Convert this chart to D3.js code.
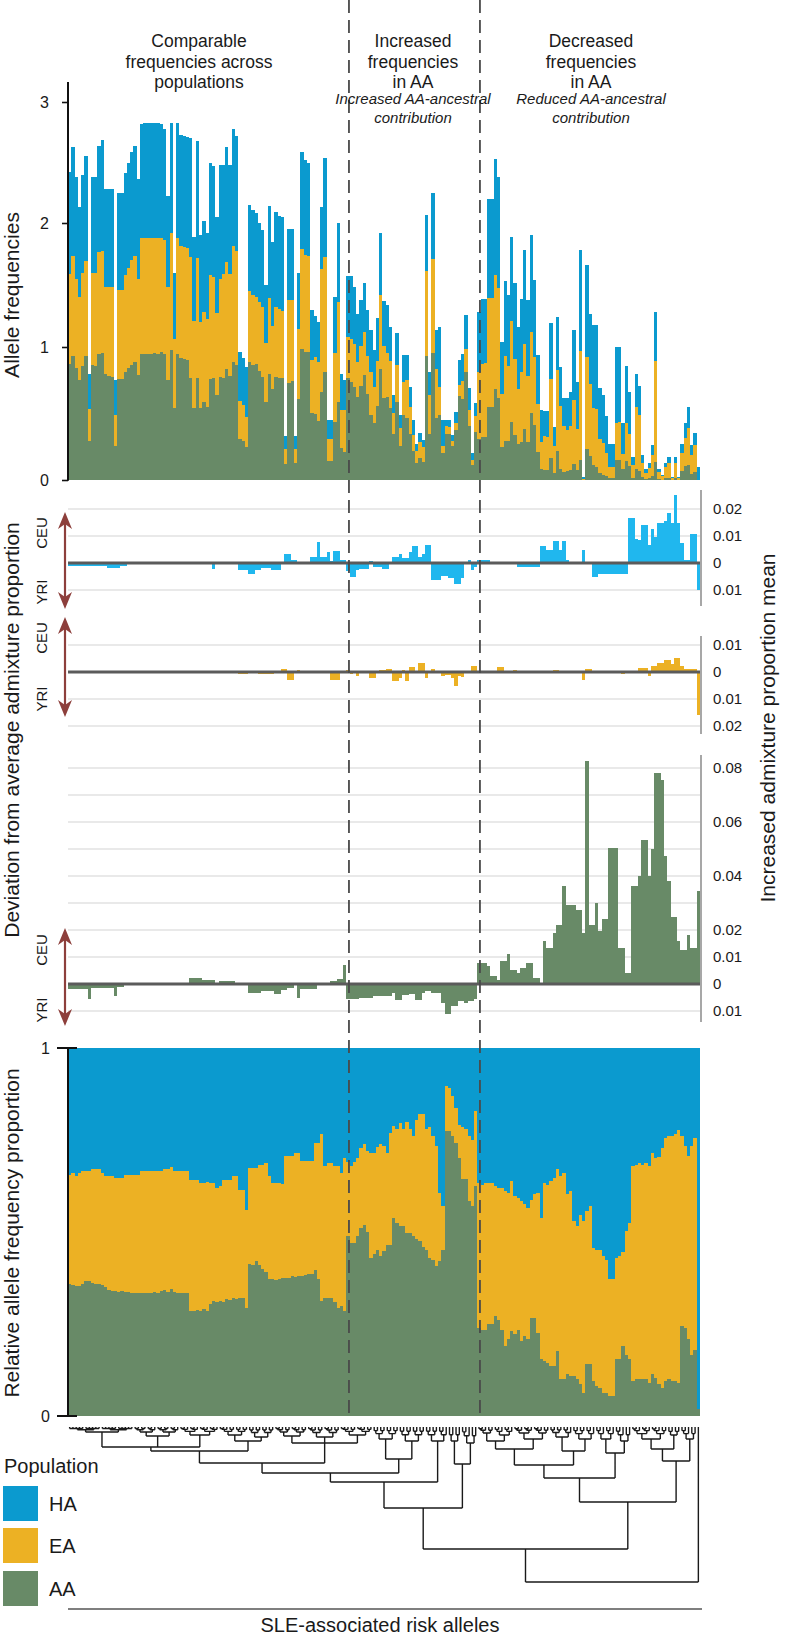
<!DOCTYPE html>
<html><head><meta charset="utf-8">
<script src="https://cdn.jsdelivr.net/npm/d3@7/dist/d3.min.js"></script>
<style>
body{margin:0;background:#fff}
svg{display:block}
text{font-family:"Liberation Sans",Arial,Helvetica,sans-serif;fill:#1a1a1a}
</style>
</head><body>
<svg id="c" width="788" height="1638"></svg>
<script>
// ---------------- DATA ----------------
const populations = ["HA","EA","AA"];
const freqTicks = [0,1,2,3];
const relTicks = [0,1];
const sectionBreaks = [85.8,125.8];
const sectionTitles = [
  {lines:["Comparable","frequencies across","populations"], italic:[]},
  {lines:["Increased","frequencies","in AA"], italic:["Increased AA-ancestral","contribution"]},
  {lines:["Decreased","frequencies","in AA"], italic:["Reduced AA-ancestral","contribution"]}
];
// summed allele frequency (HA+EA+AA) per risk allele
const totals = [
2.42,2.63,2.38,2.13,2.40,2.55,0.80,2.38,2.38,2.64,
2.69,2.28,2.28,2.28,0.75,2.25,2.25,2.41,2.50,2.59,
2.64,2.36,2.82,2.83,2.83,2.83,2.83,2.83,2.82,2.78,
2.22,2.83,1.60,2.83,2.73,2.72,2.71,2.70,1.89,2.68,
1.90,2.02,1.92,2.50,2.47,2.05,2.48,2.48,2.63,2.48,
2.78,2.72,0.96,0.92,0.85,2.15,2.11,2.08,2.00,1.94,
1.50,2.14,1.85,2.09,2.06,2.05,0.33,1.95,1.95,0.33,
1.60,2.59,2.52,2.50,1.30,1.25,1.20,2.13,2.54,0.45,
0.45,1.40,2.00,0.80,0.75,
1.57,1.57,1.48,1.27,1.38,1.52,1.30,1.14,0.98,1.23,
1.92,1.37,1.34,1.16,0.64,1.11,0.49,0.94,0.94,0.70,
0.45,0.27,0.35,0.30,2.07,0.81,2.25,1.14,1.16,0.45,
0.45,0.45,0.34,0.51,0.90,0.95,1.26,0.69,0.20,0.58,
1.28,1.39,1.39,2.20,2.20,2.53,2.38,1.04,1.53,1.42,
1.89,1.52,1.16,1.39,1.78,1.38,1.90,1.54,0.94,0.53,
0.52,0.52,1.19,0.40,1.24,0.85,0.62,0.62,0.66,1.14,
0.74,1.78,0.02,1.66,1.27,1.18,1.18,0.69,0.64,0.48,
0.27,0.27,1.00,1.00,0.43,0.86,0.66,0.17,0.80,0.71,
0.19,0.08,0.13,0.26,1.28,0.08,0.04,0.13,0.17,0.02,
0.17,0.02,0.27,0.43,0.55,0.26,0.35,0.10];
// relative proportion of AA
const propAA = [
.36,.355,.353,.353,.358,.367,.367,.362,.36,.36,
.356,.35,.343,.34,.339,.336,.339,.336,.336,.335,
.335,.335,.335,.335,.335,.335,.338,.335,.34,.342,
.338,.345,.338,.335,.335,.335,.333,.285,.285,.287,
.285,.29,.285,.305,.312,.31,.312,.31,.318,.315,
.32,.318,.321,.32,.294,.412,.41,.421,.41,.40,
.39,.371,.371,.37,.371,.375,.375,.375,.38,.378,
.38,.38,.382,.385,.385,.398,.371,.312,.321,.32,
.321,.31,.294,.30,.285,
.49,.47,.47,.49,.51,.52,.50,.43,.44,.45,
.434,.448,.466,.466,.538,.525,.516,.516,.498,.498,
.49,.48,.475,.46,.452,.43,.425,.407,.42,.45,
.774,.774,.76,.742,.70,.643,.643,.584,.57,.624,
.24,.235,.235,.249,.249,.271,.26,.235,.19,.208,
.231,.222,.235,.204,.217,.208,.267,.267,.226,.154,
.15,.145,.136,.136,.176,.10,.10,.113,.11,.108,
.10,.086,.063,.14,.14,.095,.081,.077,.063,.063,
.054,.054,.154,.154,.19,.167,.154,.095,.10,.10,
.10,.10,.09,.113,.104,.086,.077,.095,.10,.095,
.095,.09,.244,.24,.208,.167,.18,.02];
// relative proportion of AA+EA (cumulative)
const propAAEA = [
.656,.66,.652,.66,.665,.665,.665,.67,.67,.67,
.66,.652,.652,.652,.648,.648,.648,.656,.656,.656,
.656,.656,.665,.665,.665,.665,.665,.665,.665,.67,
.67,.677,.665,.665,.665,.665,.665,.64,.64,.64,
.633,.633,.637,.633,.633,.62,.625,.64,.64,.64,
.652,.652,.615,.615,.561,.674,.674,.674,.683,.683,
.688,.652,.634,.634,.634,.63,.706,.706,.706,.714,
.714,.692,.692,.692,.692,.742,.742,.765,.68,.688,
.688,.68,.68,.66,.70,
.69,.68,.69,.70,.728,.738,.72,.715,.715,.73,
.738,.733,.715,.77,.787,.78,.796,.78,.80,.78,
.76,.805,.82,.82,.78,.785,.76,.733,.606,.57,
.896,.89,.87,.837,.79,.785,.78,.76,.75,.83,
.633,.628,.633,.633,.633,.624,.62,.62,.611,.606,
.638,.597,.593,.584,.575,.566,.588,.602,.606,.538,
.633,.628,.638,.647,.67,.652,.66,.602,.611,.53,
.516,.547,.53,.556,.57,.457,.452,.452,.434,.425,
.371,.371,.43,.434,.447,.502,.525,.679,.683,.688,
.683,.688,.679,.715,.70,.705,.728,.756,.76,.762,
.765,.778,.76,.733,.706,.733,.756,.02];
// deviation from average admixture proportion (CEU positive, YRI negative)
const devHA = [
-0.0012,-0.0012,-0.0012,-0.0012,-0.0012,-0.0012,-0.0012,-0.0012,-0.0012,-0.0012,
-0.0012,-0.0012,-0.0018,-0.0018,-0.0018,-0.0018,-0.001,-0.001,0,0,
0,0,0,0,0,0,0,0,0,0,
0,0,0,0,0,0,0,0,0,0,
0,0,0,0,-0.0022,0,0,0,0,0,
0,0,-0.0025,-0.0025,-0.0025,-0.004,-0.004,-0.0025,-0.0025,-0.0018,
-0.0018,-0.0018,-0.0027,-0.0027,-0.0025,0,0.0035,0.0035,0.0012,0.0012,
0,0,0,0,0.0022,0.0022,0.0077,0.0022,0.0022,0.004,
0.0006,0.0043,0.0043,0.0012,0.0012,-0.0031,-0.0052,-0.0052,-0.0025,-0.0022,
-0.0022,-0.0022,0.0006,-0.0015,-0.0015,-0.0015,-0.0022,-0.0022,0,0.0022,
0.0022,0.0035,0.0018,0.0018,0.004,0.0062,0.0062,0.0022,0.0035,0.0065,
0.0065,-0.0062,-0.0062,-0.0062,-0.0049,-0.0049,-0.0056,-0.0056,-0.0077,-0.0077,
-0.0056,0,0.001,-0.0025,-0.0015,0.001,0.001,0.001,0.001,0,
0,0,0,0,0,0,0,-0.0015,-0.0015,-0.0015,
-0.0015,-0.0015,-0.0015,-0.0015,0.0064,0.0064,0.0047,0.0047,0.008,0.008,
0.0047,0.008,0.0012,-0.0005,-0.0005,-0.0005,-0.0005,0.0049,0,0,
-0.0052,-0.0052,-0.004,-0.004,-0.004,-0.004,-0.004,-0.004,-0.004,-0.004,
-0.004,0.0167,0.0167,0.0089,0.0086,0.0142,0.0142,0.0068,0.0126,0.0096,
0.0148,0.0148,0.0154,0.0185,0.0148,0.0253,0.0148,0.0074,0.0012,0.0012,
0.0109,0.0109,-0.0099];
const devEA = [
0,0,0,0,0,0,0,0,0,0,
0,0,0,0,0,0,0,0,0,0,
0,0,0,0,0,0,0,0,0,0,
0,0,0,0,0,0,0,0,0,0,
0,0,0,0,0,0,0,0,0,0,
0,0,-0.0007,-0.0007,-0.0007,0,0,0,-0.0007,-0.0007,
-0.0007,-0.0007,-0.0007,0,0,0.001,0.001,-0.0028,-0.0028,0,
0.0006,0,0,0,0,0,0,0,0,0,
-0.0028,-0.0028,-0.0028,0,0,0.0006,-0.0007,0,-0.0016,0,
0,-0.0004,-0.0022,-0.0022,0,0.0006,0.0006,0.001,0.001,-0.0035,
-0.0035,-0.0022,0.0009,-0.0035,0.002,0.002,0,0.0033,0.0033,-0.0022,
0,0.0011,0,0,-0.0016,-0.001,-0.001,-0.0022,-0.0053,-0.0014,
-0.0019,-0.0004,-0.0004,0.0021,0.0021,0,0,-0.0004,0,0,
0,0.0019,0.0019,0,0,0,0.0006,0,0,0,
0,0,0,0,0,0,-0.0004,-0.0004,0.0009,0.0009,
0,0,0,0,0,0,0,-0.003,0.0011,0.0011,
0,0,0,0,0,0,0,0,0,-0.0007,
0,0,0,0,0.0015,0.0015,0.0015,-0.0013,0.0023,0.0023,
0.0033,0.0033,0.0043,0.0043,0.0031,0.0052,0.0052,0.0021,0.0011,0.0011,
0.0011,0.0011,-0.0158];
const devAA = [
-0.0019,-0.0019,-0.0019,-0.0019,-0.0019,-0.0019,-0.0056,-0.0015,-0.0015,-0.0015,
-0.0015,-0.0015,-0.0015,-0.0015,-0.0043,-0.001,-0.001,0,0,0,
0,0,0,0,0,0,0,0,0,0,
0,0,0,0,0,0,0,0.0022,0.0022,0.0022,
0.0022,0.0014,0.0014,0.0014,0.0014,0,0.001,0.001,0.001,0.001,
0.001,0,0,0,0,-0.0033,-0.0033,-0.0033,-0.0033,-0.0027,
-0.0027,-0.0027,-0.0027,-0.0036,-0.0036,-0.0021,-0.0021,-0.0015,-0.0015,0,
-0.0052,-0.0019,-0.0019,-0.0019,-0.0019,-0.0019,0,0,0,0,
0.001,0.001,0.0019,0.0019,0.0072,-0.0056,-0.0056,-0.0056,-0.0056,-0.0052,
-0.0052,-0.0052,-0.0052,-0.0046,-0.0046,-0.0046,-0.0043,-0.0043,-0.0043,-0.0033,
-0.0058,-0.0058,-0.004,-0.004,-0.0036,-0.0036,-0.0058,-0.0058,-0.0033,-0.0027,
-0.0027,-0.0033,-0.0033,-0.0033,-0.007,-0.011,-0.011,-0.0083,-0.0083,-0.0064,
-0.0064,-0.007,-0.0064,-0.0064,-0.0056,0.0078,0.0078,0.0078,0.0065,0.0028,
0.0028,0.0016,0.0084,0.0084,0.011,0.0053,0.0053,0.0041,0.0059,0.0059,
0.0078,0.0078,0.0022,0.0022,0.0004,0.0158,0.0133,0.0133,0.0189,0.022,
0.022,0.0362,0.0294,0.0294,0.0294,0.0275,0.0275,0.0189,0.0825,0.022,
0.022,0.030,0.0195,0.024,0.024,0.0504,0.0504,0.0504,0.0133,0.0133,
0.0041,0.0041,0.0362,0.0362,0.04,0.0535,0.0535,0.040,0.05,0.078,
0.078,0.0757,0.0473,0.038,0.025,0.025,0.0158,0.0127,0.0127,0.0183,
0.0133,0.0133,0.0343];
const devTicksHA = [0.02,0.01,0,-0.01];
const devTicksEA = [0.01,0,-0.01,-0.02];
const devTicksAA = [0.08,0.06,0.04,0.02,0.01,0,-0.01];
const devGridAA = [0.08,0.07,0.06,0.05,0.04,0.03,0.02,0.01,-0.01];
// hierarchical clustering of alleles (h = merge height; g = small cluster of g leaves)
const dendro = {h:155, c:[
  {h:122, c:[
    {h:81, c:[
      {h:55, c:[
        {h:46, c:[
          {h:36, c:[
            {h:24, c:[
              {h:20, c:[{g:20,h:5},{g:14,h:9},{g:12,h:8}]},
              {h:14, c:[{g:9,h:8},{g:8,h:10}]}
            ]},
            {h:16, c:[{g:10,h:9},{g:10,h:10},{g:10,h:8}]}
          ]},
          {h:32, c:[{g:8,h:12},{g:8,h:14}]}
        ]},
        {g:7,h:14}
      ]},
      {h:37, c:[{g:4,h:14},{g:5,h:16}]}
    ]},
    {h:75, c:[
      {h:51, c:[
        {h:38, c:[
          {h:22, c:[{h:14,c:[{g:5,h:6},{g:6,h:8}]},{h:12,c:[{g:6,h:6},{g:5,h:6}]}]},
          {h:24, c:[{g:7,h:10},{g:7,h:12}]}
        ]},
        {h:26, c:[{g:6,h:12},{g:5,h:14}]}
      ]},
      {h:34, c:[
        {h:22, c:[{g:11,h:12},{g:4,h:8}]},
        {g:5,h:12}
      ]}
    ]}
  ]},
  {g:1,h:0}
]};

// ---------------- CHART ----------------
const COL = {HA:"#0b9acf", EA:"#ecb124", AA:"#688a67", devHA:"#20b7ee", arrow:"#8d3f3c"};
const svg = d3.select("#c");
const N = totals.length;
const X0 = 68, X1 = 700;
const x = d3.scaleBand().domain(d3.range(N)).range([X0, X1]).padding(0);
const bw = x.bandwidth();
const bx = i => Math.round(x(i));
const bwid = i => Math.round(x(i) + bw) - Math.round(x(i));
const xBreak = d3.scaleLinear().domain([0, N]).range([X0, X1]);

// ---- top panel: stacked allele frequencies
const yTop = d3.scaleLinear().domain(freqTicks).range([480,347,223,102]);
const rows = d3.range(N).map(i => ({
  AA: totals[i]*propAA[i],
  EA: totals[i]*(propAAEA[i]-propAA[i]),
  HA: totals[i]*(1-propAAEA[i])
}));
const stackKeys = ["AA","EA","HA"];
const stacked = d3.stack().keys(stackKeys)(rows);
const gTop = svg.append("g").attr("shape-rendering","crispEdges");
stacked.forEach(layer => {
  gTop.selectAll(null).data(layer).join("rect")
    .attr("x", (d,i) => bx(i)).attr("width", (d,i) => bwid(i))
    .attr("y", d => yTop(d[1])).attr("height", d => Math.max(0, yTop(d[0]) - yTop(d[1])))
    .attr("fill", COL[layer.key]);
});
const axTop = svg.append("g").attr("transform", `translate(${X0},0)`)
  .call(d3.axisLeft(yTop).tickValues(freqTicks).tickFormat(d3.format("d")).tickSize(6).tickPadding(13));
axTop.select(".domain").remove();
axTop.selectAll("line").attr("stroke","#111").attr("stroke-width",1.6);
axTop.selectAll("text").style("font-size","16px").style("font-family","Liberation Sans, Arial, sans-serif").attr("fill","#1a1a1a");
svg.append("line").attr("x1",X0).attr("x2",X0).attr("y1",82).attr("y2",yTop(0)+0.8).attr("stroke","#111").attr("stroke-width",2);

// ---- deviation panels
function devPanel(vals, color, zeroY, gridVals, tickVals, axTopY, axBotY, arrowTop, arrowBot, ceuY, yriY){
  const y = d3.scaleLinear().domain([0, 0.01]).range([zeroY, zeroY-27]);
  const g = svg.append("g");
  g.selectAll(null).data(gridVals).join("line")
    .attr("x1",X0).attr("x2",X1).attr("y1",d=>y(d)).attr("y2",d=>y(d))
    .attr("stroke","#e2e2e2").attr("stroke-width",1.4);
  g.append("g").attr("shape-rendering","crispEdges").selectAll(null).data(vals).join("rect")
    .attr("x",(d,i)=>bx(i)).attr("width",(d,i)=>bwid(i))
    .attr("y",d=>Math.min(y(0),y(d))).attr("height",d=>Math.abs(y(d)-y(0)))
    .attr("fill",color);
  g.append("line").attr("x1",X0).attr("x2",X1).attr("y1",y(0)).attr("y2",y(0))
    .attr("stroke","#5b5b5b").attr("stroke-width",3);
  g.append("line").attr("x1",X1+1).attr("x2",X1+1).attr("y1",axTopY).attr("y2",axBotY)
    .attr("stroke","#8a8a8a").attr("stroke-width",1.5);
  g.selectAll(null).data(tickVals).join("text")
    .attr("x",713).attr("y",d=>y(d)).attr("dy","0.35em")
    .style("font-size","15px").text(d => d===0 ? "0" : Math.abs(d).toFixed(2));
  const ax = 65;
  g.append("line").attr("x1",ax).attr("x2",ax).attr("y1",arrowTop+8).attr("y2",arrowBot-8)
    .attr("stroke",COL.arrow).attr("stroke-width",2.2);
  g.append("path").attr("d",`M${ax},${arrowTop}L${ax-7},${arrowTop+17}L${ax},${arrowTop+12}L${ax+7},${arrowTop+17}Z`).attr("fill",COL.arrow);
  g.append("path").attr("d",`M${ax},${arrowBot}L${ax-7},${arrowBot-17}L${ax},${arrowBot-12}L${ax+7},${arrowBot-17}Z`).attr("fill",COL.arrow);
  g.append("text").attr("transform",`translate(47,${ceuY}) rotate(-90)`).attr("text-anchor","middle").style("font-size","15px").text("CEU");
  g.append("text").attr("transform",`translate(47,${yriY}) rotate(-90)`).attr("text-anchor","middle").style("font-size","15px").text("YRI");
}
devPanel(devHA, COL.devHA, 563, [0.02,0.01,-0.01], devTicksHA, 490, 606, 512, 609, 533, 592);
devPanel(devEA, COL.EA, 672, [0.01,-0.01,-0.02], devTicksEA, 636, 734, 617, 717, 638, 699);
devPanel(devAA, COL.AA, 984, devGridAA, devTicksAA, 755, 1022, 928, 1026, 950, 1010);

// ---- relative proportion panel
const yRel = d3.scaleLinear().domain([0,1]).range([1416,1048]);
const rows2 = d3.range(N).map(i => ({AA: propAA[i], EA: propAAEA[i]-propAA[i], HA: 1-propAAEA[i]}));
const stacked2 = d3.stack().keys(stackKeys)(rows2);
const gRel = svg.append("g").attr("shape-rendering","crispEdges");
stacked2.forEach(layer => {
  gRel.selectAll(null).data(layer).join("rect")
    .attr("x",(d,i)=>bx(i)).attr("width",(d,i)=>bwid(i))
    .attr("y",d=>yRel(d[1])).attr("height",d=>Math.max(0,yRel(d[0])-yRel(d[1])))
    .attr("fill",COL[layer.key]);
});
svg.append("line").attr("x1",X0).attr("x2",X0).attr("y1",yRel(1)).attr("y2",yRel(0)).attr("stroke","#111").attr("stroke-width",2);
svg.selectAll(null).data(relTicks).join("line")
  .attr("x1",57).attr("x2",77).attr("y1",d=>yRel(d)).attr("y2",d=>yRel(d)).attr("stroke","#111").attr("stroke-width",2);
svg.selectAll(null).data(relTicks).join("text")
  .attr("x",50).attr("y",d=>yRel(d)).attr("dy","0.35em").attr("text-anchor","end").style("font-size","16px").text(d=>d);

// ---- dashed section lines
svg.selectAll(null).data(sectionBreaks).join("line")
  .attr("x1",d=>xBreak(d)).attr("x2",d=>xBreak(d)).attr("y1",0).attr("y2",1416)
  .attr("stroke","#4a4a4a").attr("stroke-width",1.8).attr("stroke-dasharray","13,7");

// ---- section titles
const titleX = [199, 413, 591];
sectionTitles.forEach((t,k) => {
  t.lines.forEach((s,j) => svg.append("text").attr("x",titleX[k]).attr("y",47+j*20.5)
    .attr("text-anchor","middle").style("font-size","17.5px").text(s));
  t.italic.forEach((s,j) => svg.append("text").attr("x",titleX[k]).attr("y",104+j*18.5)
    .attr("text-anchor","middle").style("font-size","15px").style("font-style","italic").text(s));
});

// ---- axis titles
function vtext(xp, yp, s, size){
  svg.append("text").attr("transform",`translate(${xp},${yp}) rotate(-90)`).attr("text-anchor","middle")
    .style("font-size",size+"px").text(s);
}
vtext(19, 295, "Allele frequencies", 21);
vtext(19, 730, "Deviation from average admixture proportion", 21);
vtext(775, 728, "Increased admixture proportion mean", 21);
vtext(19, 1233, "Relative allele frequency proportion", 21);

// ---- dendrogram
const yDen = d3.scaleLinear().domain([0,155]).range([1427,1582]);
function grp(n, h){
  if (n === 1) return {h:0};
  const a = Math.ceil(n/2);
  const hc = Math.max(1.5, h*0.55);
  return {h, c:[grp(a,hc), grp(n-a,hc)]};
}
function build(nd){ return nd.g ? grp(nd.g, nd.h) : {h:nd.h, c:nd.c.map(build)}; }
const tree = build(dendro);
let leafIdx = 0;
function lay(nd){
  if (!nd.c){ nd.x = x(leafIdx) + bw/2; leafIdx++; return; }
  nd.c.forEach(lay);
  nd.x = (nd.c[0].x + nd.c[nd.c.length-1].x)/2;
}
lay(tree);
let dpath = "";
function drw(nd){
  if (!nd.c) return;
  const yn = yDen(nd.h);
  dpath += `M${nd.c[0].x},${yn}H${nd.c[nd.c.length-1].x}`;
  nd.c.forEach(ch => { dpath += `M${ch.x},${yDen(ch.h)}V${yn}`; drw(ch); });
}
drw(tree);
svg.append("path").attr("d",dpath).attr("fill","none").attr("stroke","#1a1a1a").attr("stroke-width",1.4);

// x axis line + label
svg.append("line").attr("x1",X0).attr("x2",X1+2).attr("y1",1609).attr("y2",1609).attr("stroke","#555").attr("stroke-width",1.6);
svg.append("text").attr("x",380).attr("y",1632).attr("text-anchor","middle").style("font-size","20px").text("SLE-associated risk alleles");

// ---- legend
svg.append("text").attr("x",4).attr("y",1473).style("font-size","20px").text("Population");
const legY = [1486,1528,1571];
populations.forEach((p,k) => {
  svg.append("rect").attr("x",3).attr("y",legY[k]).attr("width",35).attr("height",35).attr("fill",COL[p]);
  svg.append("text").attr("x",49).attr("y",legY[k]+17.5).attr("dy","0.35em").style("font-size","20px").text(p);
});
</script>
</body></html>
